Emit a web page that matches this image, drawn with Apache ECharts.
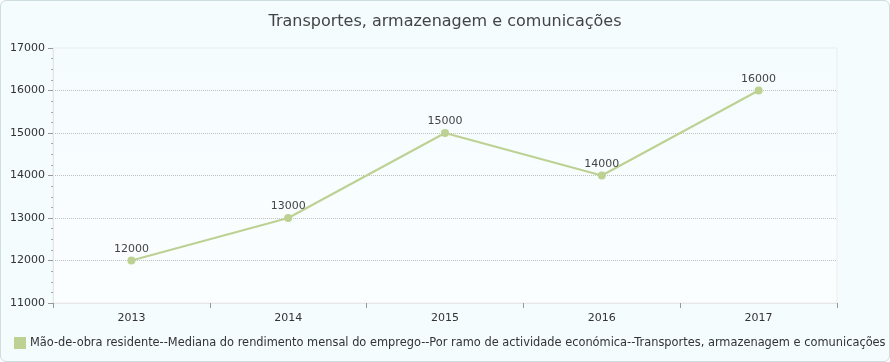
<!DOCTYPE html>
<html><head><meta charset="utf-8">
<script src="https://cdn.jsdelivr.net/npm/echarts@6/dist/echarts.min.js"></script>
<style>
html,body{margin:0;padding:0;background:#fff;}
#wrap{width:890px;height:362px;box-sizing:border-box;border:1px solid #cddde2;border-radius:6px;background:#f4fcfe;overflow:hidden;}
#c{width:888px;height:360px;}
</style></head><body>
<div id="wrap"><div id="c"></div></div>
<script>
const titleText = 'Transportes, armazenagem e comunicações';
const seriesName = 'Mão-de-obra residente--Mediana do rendimento mensal do emprego--Por ramo de actividade económica--Transportes, armazenagem e comunicações';
const categories = ['2013','2014','2015','2016','2017'];
const values = [12000, 13000, 15000, 14000, 16000];
const yMin = 11000, yMax = 17000, yStep = 1000;

const chart = echarts.init(document.getElementById('c'));
const font = 'DejaVu Sans, Verdana, sans-serif';
chart.setOption({
  animation:false,
  textStyle:{fontFamily:font},
  title:{text:titleText,left:'center',top:8,textStyle:{fontSize:16,fontWeight:'normal',color:'#444',fontFamily:font}},
  grid:{left:52,right:52,top:47,bottom:58,show:true,borderColor:'#ececec',borderWidth:1,
    backgroundColor:new echarts.graphic.LinearGradient(0,0,0,1,[{offset:0,color:'#f5fcfe'},{offset:1,color:'#fbfeff'}])},
  legend:{left:13,bottom:12,padding:0,itemWidth:12,itemHeight:12,itemGap:5,icon:'rect',
    textStyle:{fontSize:11.4,color:'#333',fontFamily:font,padding:[0,0,0,-1]}},
  xAxis:{type:'category',data:categories,boundaryGap:true,
    axisLine:{lineStyle:{color:'#e6e6e6'}},
    axisTick:{show:true,alignWithLabel:false,length:5,lineStyle:{color:'#999'}},
    axisLabel:{fontSize:11,color:'#333',margin:10}},
  yAxis:{type:'value',min:yMin,max:yMax,interval:yStep,
    axisLine:{show:true,lineStyle:{color:'#e6e6e6'}},
    axisTick:{show:true,length:5,lineStyle:{color:'#999'}},
    minorTick:{show:true,splitNumber:4,length:2,lineStyle:{color:'#aaa'}},
    axisLabel:{fontSize:11,color:'#333',margin:8,formatter:v=>String(v)},
    splitLine:{show:true,lineStyle:{type:'dotted',color:['rgba(0,0,0,0)','#c0c0c0','#c0c0c0','#c0c0c0','#c0c0c0','#c0c0c0','rgba(0,0,0,0)']}}},
  series:[{name:seriesName,type:'line',data:values,color:'#bdd193',
    symbol:'circle',symbolSize:8,lineStyle:{width:2,color:'#bdd193'},itemStyle:{color:'#bdd193'},
    label:{show:true,position:'top',distance:2,fontSize:11,color:'#444',fontFamily:font}}]
});
</script></body></html>
